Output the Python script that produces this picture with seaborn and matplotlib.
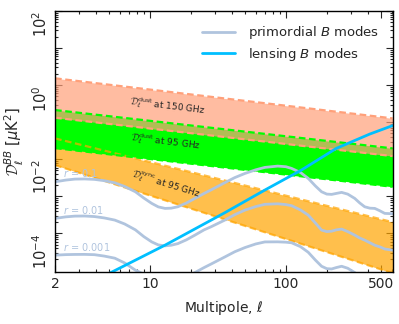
import numpy as np
import pandas as pd
import seaborn as sns
import matplotlib
matplotlib.use('Agg')
from matplotlib import pyplot as plt
from matplotlib.ticker import LogLocator, NullFormatter

# Styling
sns.set_style('ticks')
plt.rcParams['font.family'] = ['DejaVu Sans']
plt.rcParams['mathtext.fontset'] = 'custom'
plt.rcParams['mathtext.rm'] = 'DejaVu Sans'
plt.rcParams['mathtext.it'] = 'DejaVu Sans:italic'
plt.rcParams['mathtext.bf'] = 'DejaVu Sans:bold'
plt.rcParams['mathtext.cal'] = 'cmsy10'
plt.rcParams['xtick.direction'] = plt.rcParams['ytick.direction'] = 'in'
plt.rcParams['xtick.labelsize'] = 10
plt.rcParams['ytick.labelsize'] = 10.5
plt.rcParams['axes.labelsize'] = 10

# Foreground bands (edges at ell = 2 and ell = 610)
ell_band = [2, 610]
dust150_hi = [1.53, 0.127]
dust150_lo = [0.132, 0.0122]
dust95_hi = [0.213, 0.0197]
dust95_lo = [0.0200, 0.00181]
sync95_hi = [0.0366, 2.02e-4]
sync95_lo = [6.97e-3, 8.5e-6]

# Primordial B modes (r = 0.1, 0.01, 0.001)
ell_prim = [2, 2.4, 2.8, 3.3, 3.9, 4.6, 5.5, 6.5, 7.8, 9, 10.3, 11.5, 12.9, 14.3,
            16, 18.5, 21.4, 25, 28, 35.6, 42, 50, 60, 70, 87, 100, 110, 128, 146,
            165, 183, 200, 217, 235, 257, 285, 321, 350, 380, 415, 451, 490, 534, 610]
D_r01 = [2.47e-3, 2.75e-3, 2.92e-3, 2.95e-3, 2.87e-3, 2.65e-3, 2.32e-3, 1.85e-3,
         1.33e-3, 9.0e-4, 6.45e-4, 5.2e-4, 4.73e-4, 4.8e-4, 5.23e-4, 6.6e-4,
         8.81e-4, 1.2e-3, 1.48e-3, 2.35e-3, 3.2e-3, 4.16e-3, 5.2e-3, 6.04e-3,
         6.55e-3, 6.3e-3, 5.68e-3, 4.4e-3, 3.05e-3, 1.9e-3, 1.33e-3, 1.15e-3,
         1.13e-3, 1.2e-3, 1.28e-3, 1.15e-3, 8.81e-4, 6.6e-4, 5.23e-4, 4.8e-4,
         4.73e-4, 4.1e-4, 3.47e-4, 3.4e-4]
D_r001 = [2.54e-4, 2.8e-4, 2.93e-4, 2.95e-4, 2.85e-4, 2.62e-4, 2.29e-4, 1.8e-4,
          1.25e-4, 8.2e-5, 5.9e-5, 4.9e-5, 4.62e-5, 4.8e-5, 5.3e-5, 6.7e-5,
          9.0e-5, 1.25e-4, 1.5e-4, 2.3e-4, 3.2e-4, 4.26e-4, 5.3e-4, 6.1e-4,
          6.3e-4, 6.0e-4, 5.6e-4, 4.3e-4, 3.12e-4, 1.9e-4, 1.23e-4, 1.12e-4,
          1.15e-4, 1.25e-4, 1.31e-4, 1.12e-4, 9.0e-5, 7.5e-5, 6.59e-5, 5.6e-5,
          4.8e-5, 4.35e-5, 3.8e-5, 3.54e-5]
D_r0001 = [2.59e-5, 2.68e-5, 2.71e-5, 2.72e-5, 2.67e-5, 2.45e-5, 2.15e-5, 1.6e-5,
           1.02e-5, 8.0e-6, 6.4e-6, 5.2e-6, 4.7e-6, 4.8e-6, 5.2e-6, 6.6e-6,
           8.8e-6, 1.2e-5, 1.48e-5, 2.33e-5, 3.2e-5, 4.16e-5, 5.2e-5, 5.9e-5,
           5.93e-5, 5.8e-5, 5.6e-5, 4.4e-5, 3.1e-5, 1.9e-5, 1.3e-5, 1.12e-5,
           1.1e-5, 1.2e-5, 1.3e-5, 1.15e-5, 8.8e-6, 6.6e-6, 5.2e-6, 4.8e-6,
           4.7e-6, 4.1e-6, 3.5e-6, 3.4e-6]

# Lensing B modes
ell_lens = [4, 12.9, 35.6, 70, 130, 235, 414, 610]
D_lens = [5.5e-6, 4.83e-5, 3.64e-4, 1.48e-3, 5.12e-3, 1.97e-2, 4.79e-2, 8.1e-2]

r_labels = ['$r$ = 0.1', '$r$ = 0.01', '$r$ = 0.001']

col_prim = 'lightsteelblue'
col_lens = 'deepskyblue'
dash = (0, (3, 1.6))

fig = plt.figure(figsize=(3.99, 3.24), dpi=100)
ax = fig.add_axes([0.138, 0.161, 0.846, 0.805])
ax.set_xscale('log')
ax.set_yscale('log')

# Bands
ax.fill_between(ell_band, sync95_lo, sync95_hi, color='orange', alpha=0.7, lw=0)
ax.fill_between(ell_band, dust95_lo, dust95_hi, color='lime', lw=0)
ax.fill_between(ell_band, dust150_lo, dust150_hi, color='lightsalmon', alpha=0.7, lw=0)
for y in (sync95_lo, sync95_hi):
    ax.plot(ell_band, y, color='orange', alpha=0.7, lw=1.6, ls=dash)
for y in (dust95_lo, dust95_hi):
    ax.plot(ell_band, y, color='lime', lw=1.6, ls=dash)
for y in (dust150_lo, dust150_hi):
    ax.plot(ell_band, y, color='lightsalmon', lw=1.6, ls=dash)

# Spectra
for i, d in enumerate([D_r01, D_r001, D_r0001]):
    sns.lineplot(x=ell_prim, y=d, ax=ax, color=col_prim, lw=2, sort=False,
                 label='primordial $B$ modes' if i == 0 else None)
sns.lineplot(x=ell_lens, y=D_lens, ax=ax, color=col_lens, lw=2, sort=False,
             label='lensing $B$ modes')

# Text labels
ax.text(13.5, 0.27, r'$\mathcal{D}_\ell^{\rm dust}$ at 150 GHz', fontsize=6.5,
        rotation=-7, ha='center', va='center')
ax.text(13.1, 0.029, r'$\mathcal{D}_\ell^{\rm dust}$ at 95 GHz', fontsize=6.5,
        rotation=-7, ha='center', va='center')
ax.text(13.1, 2.1e-3, r'$\mathcal{D}_\ell^{\rm sync}$ at 95 GHz', fontsize=6.5,
        rotation=-17, ha='center', va='center')
for lab, yv in zip(r_labels, [4.2e-3, 4.4e-4, 4.4e-5]):
    ax.text(2.3, yv, lab, fontsize=7, color=col_prim, ha='left', va='center')

ax.set_xlim(2, 610)
ax.set_ylim(9.2e-6, 1e2)
ax.set_xticks([2, 10, 100, 500], ['2', '10', '100', '500'])
ax.xaxis.set_minor_locator(LogLocator(base=10, subs=np.arange(2, 10), numticks=20))
ax.xaxis.set_minor_formatter(NullFormatter())
ax.set_yticks([1e-4, 1e-3, 1e-2, 1e-1, 1, 10, 100],
              ['$10^{-4}$', '', '$10^{-2}$', '', '$10^{0}$', '', '$10^{2}$'])
ax.yaxis.set_minor_locator(LogLocator(base=10, subs=np.arange(2, 10), numticks=20))
ax.yaxis.set_minor_formatter(NullFormatter())
ax.tick_params(which='both', top=True, right=True, width=0.8)
ax.tick_params(which='major', length=5)
ax.tick_params(which='minor', length=2.5)
for lab in ax.get_yticklabels():
    lab.set_rotation(90)
    lab.set_va('top')
for s in ax.spines.values():
    s.set_linewidth(1.0)
    s.set_color('black')

ax.set_xlabel(r'Multipole, $\ell$', labelpad=6)
ax.set_ylabel(r'$\mathcal{D}_\ell^{BB}$ [$\mu$K$^2$]', labelpad=4, fontsize=10.5)
ax.legend(loc='upper right', frameon=False, fontsize=9.5, handlelength=2.5,
          handletextpad=1.0, borderaxespad=0.6, labelspacing=0.35)

fig.savefig('out.png', dpi=100)
